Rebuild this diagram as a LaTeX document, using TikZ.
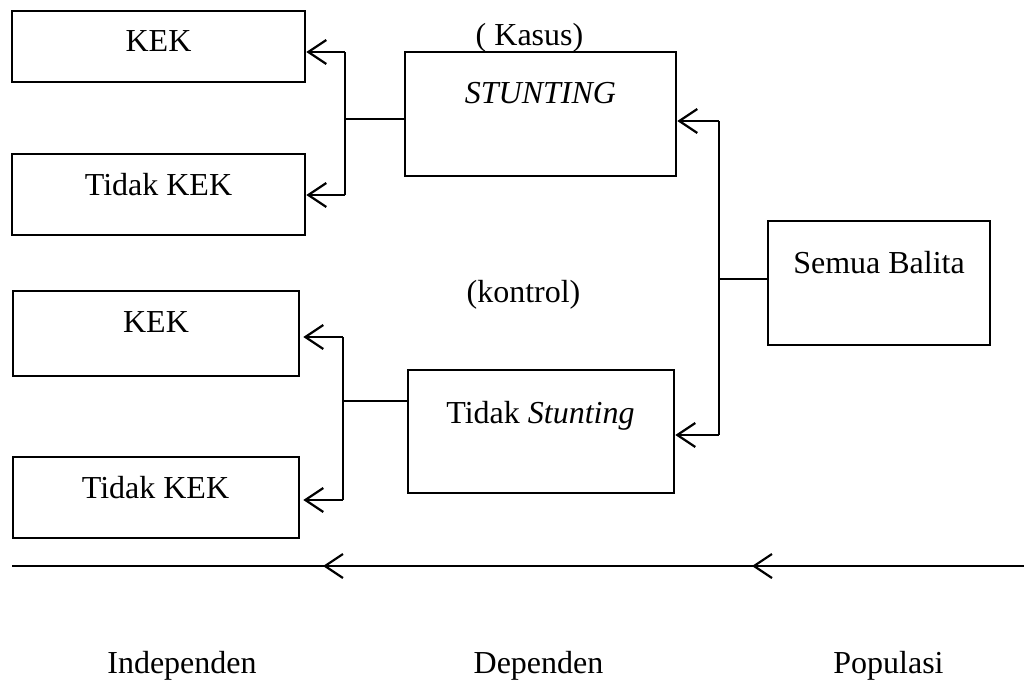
\documentclass[tikz,border=0pt]{standalone}
\usepackage{fontspec}
\setmainfont{Liberation Serif}
\usetikzlibrary{arrows.meta,fit}
\begin{document}
\begin{tikzpicture}[x=1pt,y=-1pt,
  box/.style={draw, line width=2.6pt, inner sep=0pt},
  txt/.style={anchor=base, inner sep=0pt, font=\fontsize{32}{36}\selectfont},
  conn/.style={line width=1.3pt},
  arr/.style={line width=2.2pt, -{Straight Barb[length=18pt,width=24pt]}}]
\useasboundingbox (0,0) rectangle (1024,689);
% boxes
\node[box, fit={(12,11) (305,82)}] (kek1) {};
\node[box, fit={(12,154) (305,235)}] (tkek1) {};
\node[box, fit={(13,291) (299,376)}] (kek2) {};
\node[box, fit={(13,457) (299,538)}] (tkek2) {};
\node[box, fit={(405,52) (676,176)}] (stunt) {};
\node[box, fit={(408,370) (674,493)}] (tstunt) {};
\node[box, fit={(768,221) (990,345)}] (semua) {};
% texts
\node[txt] (l1) at (158.5,51) {KEK};
\node[txt] (l2) at (158.5,195) {Tidak KEK};
\node[txt] (l3) at (156,332) {KEK};
\node[txt] (l4) at (155.5,498) {Tidak KEK};
\node[txt] (l5) at (529.5,45) {( Kasus)};
\node[txt] (l6) at (540.5,103) {\itshape STUNTING};
\node[txt] (l7) at (523.5,302) {(kontrol)};
\node[txt] (l8) at (540.5,423) {Tidak \textit{Stunting}};
\node[txt] (l9) at (879,273) {Semua Balita};
\node[txt] (b1) at (182,673) {Independen};
\node[txt] (b2) at (538.5,673) {Dependen};
\node[txt] (b3) at (888.5,673) {Populasi};
% upper left connector
\coordinate (uA) at (345,52);
\coordinate (uB) at (345,195);
\coordinate (uM) at (345,119);
\draw[conn] (uA) -- (uB);
\draw[conn] (stunt.west |- uM) -- (uM);
\draw[arr] (uA) -- (kek1.east |- uA);
\draw[arr] (uB) -- (tkek1.east |- uB);
% lower left connector
\coordinate (dA) at (343,337);
\coordinate (dB) at (343,500);
\coordinate (dM) at (343,401);
\draw[conn] (dA) -- (dB);
\draw[conn] (tstunt.west |- dM) -- (dM);
\draw[arr] (dA) -- ([xshift=3pt]kek2.east |- dA);
\draw[arr] (dB) -- ([xshift=3pt]tkek2.east |- dB);
% right connector
\coordinate (rA) at (719,121);
\coordinate (rB) at (719,435);
\coordinate (rM) at (719,279);
\draw[conn] (rA) -- (rB);
\draw[conn] (semua.west |- rM) -- (rM);
\draw[arr] (rA) -- (stunt.east |- rA);
\draw[arr] (rB) -- (tstunt.east |- rB);
% bottom line
\coordinate (hL) at (12,566);
\coordinate (hR) at (1024,566);
\coordinate (a1s) at (362,566);
\coordinate (a1e) at (323,566);
\coordinate (a2s) at (792,566);
\coordinate (a2e) at (752,566);
\draw[conn] (hL) -- (hR);
\draw[arr] (a1s) -- (a1e);
\draw[arr] (a2s) -- (a2e);
\end{tikzpicture}
\end{document}
